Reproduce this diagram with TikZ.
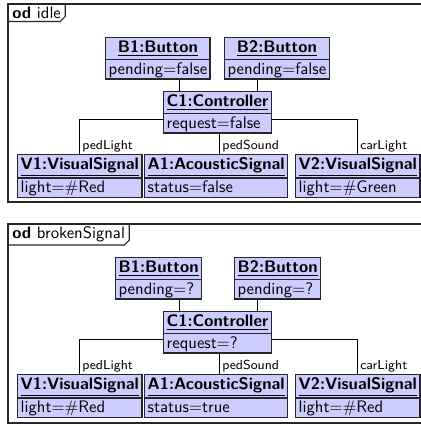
\documentclass[tikz,border=0pt]{standalone}
\usetikzlibrary{shapes.multipart}

% struts fixing the height of the name row and of the attribute row
\newcommand\objhead[1]{\rule[-3.3pt]{0pt}{11.6pt}\underline{\textbf{#1}}}
\newcommand\objattr[1]{\rule[-2.2pt]{0pt}{10pt}#1}

\tikzset{
  x=0.6pt, y=-0.6pt,
  obj/.style={rectangle split, rectangle split parts=2,
    rectangle split part align={center,left},
    draw=black!85, line width=0.8pt, fill=blue!20,
    inner xsep=1.8pt, inner ysep=0.4pt, anchor=north west, font=\sffamily},
  link/.style={draw=black, line width=0.6pt},
  role/.style={font=\sffamily\fontsize{7.8}{9}\selectfont, anchor=south west,
    inner xsep=1.8pt, inner ysep=0.8pt},
  frame/.style={draw=black!85, line width=0.7pt},
  tab/.style={anchor=north west, inner xsep=2.4pt, inner ysep=1.5pt, font=\sffamily},
}

\begin{document}
\begin{tikzpicture}
\useasboundingbox (0,0) rectangle (421,426);

% columns and rows used by the connectors
\coordinate (colB1) at (179,0);
\coordinate (colB2) at (257,0);
\coordinate (colPL) at (79,0);
\coordinate (colPS) at (219,0);
\coordinate (colCL) at (357,0);
\coordinate (rowI) at (0,119);
\coordinate (rowB) at (0,339);

% ---------------- object diagram: idle ----------------
\draw[frame] (8,4) rectangle (440,202);
\node[tab] (t1) at (8,4) {\textbf{od} idle};
\draw[frame] (t1.south west) -- ([xshift=-3pt]t1.south east)
  -- ([yshift=3pt]t1.south east) -- (t1.north east);

\node[obj] (b1) at (105,37) {\objhead{B1:Button}\nodepart{two}\objattr{pending=false}};
\node[obj] (b2) at (224,37) {\objhead{B2:Button}\nodepart{two}\objattr{pending=false}};
\node[obj] (c1) at (163,91) {\objhead{C1:Controller}\nodepart{two}\objattr{request=false}};
\node[obj] (v1) at (17,154) {\objhead{V1:VisualSignal}\nodepart{two}\objattr{light=\#Red}};
\node[obj] (a1) at (144,154) {\objhead{A1:AcousticSignal}\nodepart{two}\objattr{status=false}};
\node[obj] (v2) at (295,154) {\objhead{V2:VisualSignal}\nodepart{two}\objattr{light=\#Green}};

\draw[link] (b1.south -| colB1) -- (c1.north -| colB1);
\draw[link] (b2.south -| colB2) -- (c1.north -| colB2);
\draw[link] (c1.two west |- rowI) -| (v1.north -| colPL);
\draw[link] (c1.south -| colPS) -- (a1.north -| colPS);
\draw[link] (c1.two east |- rowI) -| (v2.north -| colCL);
\node[role] (r1) at (v1.north -| colPL) {pedLight};
\node[role] (r2) at (a1.north -| colPS) {pedSound};
\node[role] (r3) at (v2.north -| colCL) {carLight};

% ---------------- object diagram: brokenSignal ----------------
\draw[frame] (8,224) rectangle (440,423);
\node[tab] (t2) at (8,224) {\textbf{od} brokenSignal};
\draw[frame] (t2.south west) -- ([xshift=-3pt]t2.south east)
  -- ([yshift=3pt]t2.south east) -- (t2.north east);

\node[obj] (b1x) at (115,257) {\objhead{B1:Button}\nodepart{two}\objattr{pending=?}};
\node[obj] (b2x) at (234,257) {\objhead{B2:Button}\nodepart{two}\objattr{pending=?}};
\node[obj] (c1x) at (163,311) {\objhead{C1:Controller}\nodepart{two}\objattr{request=?}};
\node[obj] (v1x) at (17,374) {\objhead{V1:VisualSignal}\nodepart{two}\objattr{light=\#Red}};
\node[obj] (a1x) at (144,374) {\objhead{A1:AcousticSignal}\nodepart{two}\objattr{status=true}};
\node[obj] (v2x) at (295,374) {\objhead{V2:VisualSignal}\nodepart{two}\objattr{light=\#Red}};

\draw[link] (b1x.south -| colB1) -- (c1x.north -| colB1);
\draw[link] (b2x.south -| colB2) -- (c1x.north -| colB2);
\draw[link] (c1x.two west |- rowB) -| (v1x.north -| colPL);
\draw[link] (c1x.south -| colPS) -- (a1x.north -| colPS);
\draw[link] (c1x.two east |- rowB) -| (v2x.north -| colCL);
\node[role] (r1x) at (v1x.north -| colPL) {pedLight};
\node[role] (r2x) at (a1x.north -| colPS) {pedSound};
\node[role] (r3x) at (v2x.north -| colCL) {carLight};
\end{tikzpicture}
\end{document}
